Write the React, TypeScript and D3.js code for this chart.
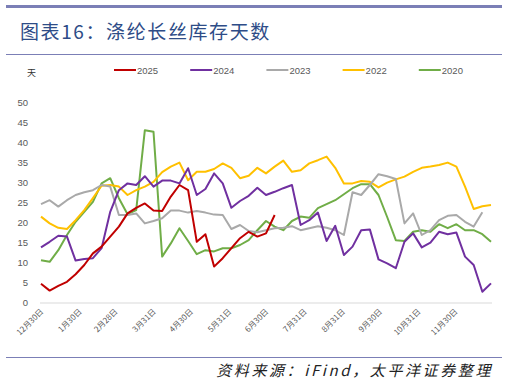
import React from 'react';
import * as d3 from 'd3';

// weekly readings, first week = 12月30日
const START = new Date(2024, 11, 30);

const S2025 = [4.8, 3.1, 4.3, 5.3, 7.2, 9.5, 12.4, 14.1, 16.6, 19.1, 22.4, 23.8, 24.9, 23.1, 23.0, 26.6, 29.5, 28.2, 15.3, 17.2, 9.1, 11.2, 13.7, 16.2, 17.8, 16.6, 17.4, 22.0];
const S2024 = [13.9, 15.3, 16.8, 16.6, 10.6, 11.0, 11.2, 13.7, 22.8, 28.2, 29.9, 29.5, 31.7, 29.1, 30.6, 30.6, 29.9, 33.7, 27.0, 28.5, 32.4, 29.9, 23.8, 25.5, 26.8, 28.8, 27.0, 27.8, 28.7, 29.5, 19.5, 20.7, 22.6, 15.5, 19.3, 12.0, 14.1, 18.2, 18.4, 10.9, 9.9, 8.7, 15.3, 17.4, 13.9, 15.1, 17.8, 17.2, 17.6, 11.6, 9.5, 2.8, 4.9];
const S2023 = [24.7, 25.7, 24.1, 25.7, 27.0, 27.7, 28.2, 29.5, 29.1, 22.0, 22.0, 22.4, 19.9, 20.5, 21.2, 23.1, 23.1, 22.6, 23.0, 22.6, 22.1, 22.0, 18.5, 19.5, 18.0, 17.7, 18.2, 18.7, 18.8, 19.2, 18.2, 18.7, 19.2, 18.8, 18.2, 17.0, 27.7, 27.0, 29.5, 32.2, 31.7, 31.0, 19.9, 22.4, 17.0, 18.2, 20.7, 21.8, 22.0, 20.3, 19.1, 22.7];
const S2022 = [21.6, 19.9, 18.8, 18.5, 20.7, 23.2, 26.2, 29.3, 29.5, 29.1, 27.0, 28.2, 29.1, 30.3, 32.7, 34.1, 35.1, 30.7, 32.8, 32.8, 33.5, 34.9, 33.8, 31.2, 31.8, 33.8, 32.4, 34.1, 35.6, 32.8, 33.2, 34.9, 35.7, 36.6, 33.8, 29.9, 29.9, 30.5, 30.3, 28.9, 30.1, 30.9, 31.6, 32.8, 33.8, 34.1, 34.5, 35.1, 34.1, 29.1, 23.5, 24.2, 24.5];
const S2020 = [10.7, 10.3, 13.2, 17.0, 20.3, 22.8, 25.3, 29.9, 31.2, 26.2, 22.2, 23.2, 43.2, 42.8, 11.6, 14.9, 18.7, 15.5, 12.2, 13.2, 12.9, 13.7, 13.7, 14.5, 15.7, 18.2, 20.5, 19.1, 18.2, 20.5, 21.6, 21.3, 23.7, 24.7, 25.7, 27.2, 28.7, 29.7, 29.7, 27.0, 21.5, 15.7, 15.5, 17.8, 18.2, 17.8, 19.7, 18.7, 19.7, 18.2, 18.2, 17.2, 15.3];

const LEGEND = ['2025', '2024', '2023', '2022', '2020'];
const SERIES = [S2025, S2024, S2023, S2022, S2020];
const COLORS = ['#C00000', '#7030A0', '#A9A9A9', '#FFC000', '#70AD47'];

const TICK_DATES = [
  [2024, 11, 30], [2025, 0, 30], [2025, 1, 28], [2025, 2, 31], [2025, 3, 30], [2025, 4, 31],
  [2025, 5, 30], [2025, 6, 31], [2025, 7, 31], [2025, 8, 30], [2025, 9, 31], [2025, 10, 30],
];
const Y_TICKS = [0, 5, 10, 15, 20, 25, 30, 35, 40, 45, 50];

const W = 507;
const H = 385;
const FONT = 'Liberation Sans, Arial, sans-serif';
const CJK = '"Noto Sans CJK SC", sans-serif';
const RULE = '#7B7FB6';

export default function App() {
  const x = d3
    .scaleTime()
    .domain([START, d3.timeDay.offset(START, 364)])
    .range([41, 491]);
  const y = d3.scaleLinear().domain([0, 50]).range([303, 103]);

  const line = d3
    .line<number>()
    .x((_, i) => x(d3.timeDay.offset(START, i * 7)))
    .y((v) => y(v));

  const order = [4, 3, 2, 1, 0];

  return (
    <svg
      width={W}
      height={H}
      style={{ position: 'fixed', left: 0, top: 0, background: '#fff' }}
    >
      <rect width={W} height={H} fill="#fff" />
      <line x1={6} x2={502} y1={6.5} y2={6.5} stroke={RULE} strokeWidth={3} />
      <text x={20} y={39} fontFamily={CJK} fontSize={19} fill="#2E4C87" letterSpacing={1.6}>
        图表16：涤纶长丝库存天数
      </text>
      <line x1={6} x2={502} y1={54.5} y2={54.5} stroke={RULE} strokeWidth={1} />

      <text x={27} y={76} fontFamily={CJK} fontSize={9} fill="#333">天</text>

      {LEGEND.map((name, i) => {
        const lx = 114 + i * 76.2;
        return (
          <g key={name}>
            <line x1={lx} x2={lx + 22} y1={70} y2={70} stroke={COLORS[i]} strokeWidth={2} />
            <text x={lx + 23} y={73.5} fontFamily={FONT} fontSize={9.5} fill="#595959">
              {name}
            </text>
          </g>
        );
      })}

      {Y_TICKS.map((t) => (
        <text
          key={t}
          x={28}
          y={y(t)}
          dy="0.35em"
          textAnchor="end"
          fontFamily={FONT}
          fontSize={9.5}
          fill="#595959"
        >
          {t}
        </text>
      ))}

      <line x1={40} x2={492} y1={y(0)} y2={y(0)} stroke="#D9D9D9" strokeWidth={1} />

      {TICK_DATES.map(([yy, mm, dd]) => {
        const d = new Date(yy, mm, dd);
        const px = x(d);
        return (
          <text
            key={`${mm}-${dd}`}
            transform={`translate(${px + 1},${310}) rotate(-45)`}
            textAnchor="end"
            dy="0.35em"
            fontFamily={CJK}
            fontSize={8}
            fill="#595959"
          >
            {`${mm + 1}月${dd}日`}
          </text>
        );
      })}

      {order.map((i) => (
        <path
          key={LEGEND[i]}
          d={line(SERIES[i]) ?? ''}
          fill="none"
          stroke={COLORS[i]}
          strokeWidth={2}
          strokeLinejoin="round"
        />
      ))}

      <line x1={6} x2={502} y1={357.5} y2={357.5} stroke={RULE} strokeWidth={1} />
      <text
        x={493}
        y={376}
        textAnchor="end"
        fontFamily={CJK}
        fontSize={15}
        fontStyle="italic"
        fill="#222"
        letterSpacing={2.6}
      >
        资料来源：iFind，太平洋证券整理
      </text>
    </svg>
  );
}
